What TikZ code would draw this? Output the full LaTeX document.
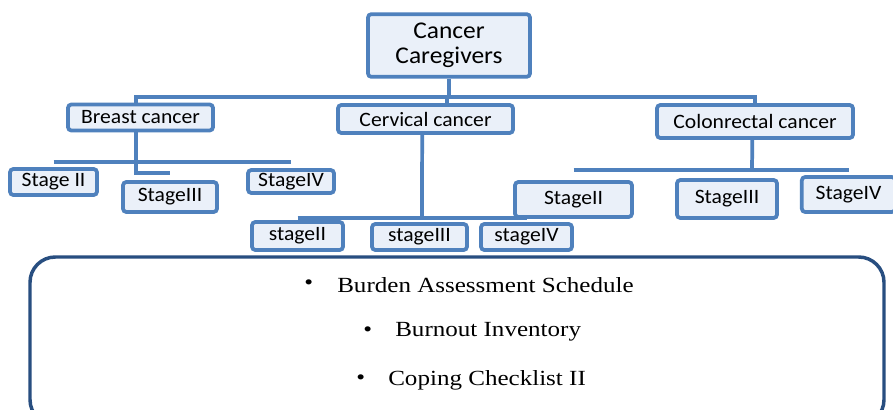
\documentclass[tikz,border=0pt]{standalone}
\usepackage{fontspec}
\usetikzlibrary{calc}
\newfontfamily\boxfont[FakeStretch=1.06]{Carlito}
\newfontfamily\listfont[FakeStretch=1.16]{Liberation Serif}
\definecolor{boxblue}{RGB}{79,129,189}
\definecolor{boxfill}{RGB}{234,240,249}
\definecolor{darkblue}{RGB}{40,78,128}
\begin{document}
\begin{tikzpicture}[x=0.75pt,y=-0.75pt,
  sbox/.style={draw=boxblue,line width=2.8pt,fill=boxfill,rounded corners=2.5pt,
    inner sep=0pt,font=\boxfont\fontsize{15.3}{17}\selectfont,align=center},
  conn/.style={draw=boxblue,line width=2.8pt},
  listtxt/.style={font=\listfont\fontsize{16.2}{18}\selectfont,anchor=west,inner sep=0pt}]
\useasboundingbox (0,0) rectangle (893,410);
\fill[white] (0,0) rectangle (893,410);
% nodes
\node[sbox,minimum width=121.5pt,minimum height=47pt,font=\boxfont\fontsize{18}{19}\selectfont] (cc) at (449,45.5) {Cancer\\Caregivers};
\node[sbox,minimum width=108.75pt,minimum height=19.5pt] (breast) at (140.5,117.5) {Breast cancer};
\node[sbox,minimum width=131.25pt,minimum height=21pt] (cervical) at (425.5,119) {Cervical cancer};
\node[sbox,minimum width=147pt,minimum height=24.75pt] (colon) at (755,121.5) {Colonrectal cancer};
\node[sbox,minimum width=65.25pt,minimum height=19.5pt] (b2) at (53.5,182) {Stage II};
\node[sbox,minimum width=70.5pt,minimum height=22.5pt] (b3) at (170,197) {StageIII};
\node[sbox,minimum width=64.5pt,minimum height=17.25pt] (b4) at (291,181.5) {StageIV};
\node[sbox,minimum width=68.25pt,minimum height=21pt] (c2) at (297.5,236) {stageII};
\node[sbox,minimum width=71.25pt,minimum height=19.5pt] (c3) at (419.5,237) {stageIII};
\node[sbox,minimum width=68.25pt,minimum height=19.5pt] (c4) at (526.5,237) {stageIV};
\node[sbox,minimum width=87.75pt,minimum height=26.25pt] (co2) at (573.5,199.5) {StageII};
\node[sbox,minimum width=75pt,minimum height=28.5pt] (co3) at (727,199) {StageIII};
\node[sbox,minimum width=70pt,minimum height=26.25pt] (co4) at (848.5,194.5) {StageIV};
% connectors
\coordinate (bus) at (447,97);
\coordinate (bbus) at (137,162);
\coordinate (cbus) at (422,218);
\coordinate (obus) at (752,170);
\draw[conn] (cc.south) -- (cc.south |- bus);
\draw[conn] ([xshift=-3.5pt]breast.north) |- (bus) -| (colon.north);
\draw[conn] (cervical.north -| bus) -- (bus);
\draw[conn] ([xshift=-3.5pt]breast.south) |- ($(b3.north)+(0,-7)$);
\draw[conn] (b2.north |- bbus) -- (b4.north |- bbus);
\draw[conn] ([xshift=-2.5pt]cervical.south) -- (cbus);
\draw[conn] (c2.north |- cbus) -- (c4.north |- cbus);
\draw[conn] ([xshift=-2pt]colon.south) -- (obus);
\draw[conn] (co2.north |- obus) -- (co4.north |- obus);
% bottom box
\draw[darkblue,line width=2.6pt,rounded corners=19pt] (30,257) rectangle (884,425);
\node[listtxt] (l1b) at (304,285) {\textbullet};
\node[listtxt] (l1) at (337,285) {Burden Assessment Schedule};
\node[listtxt] (l2b) at (363,332) {\textbullet};
\node[listtxt] (l2) at (395,332) {Burnout Inventory};
\node[listtxt] (l3b) at (356,380) {\textbullet};
\node[listtxt] (l3) at (388,380) {Coping Checklist II};
\end{tikzpicture}
\end{document}
